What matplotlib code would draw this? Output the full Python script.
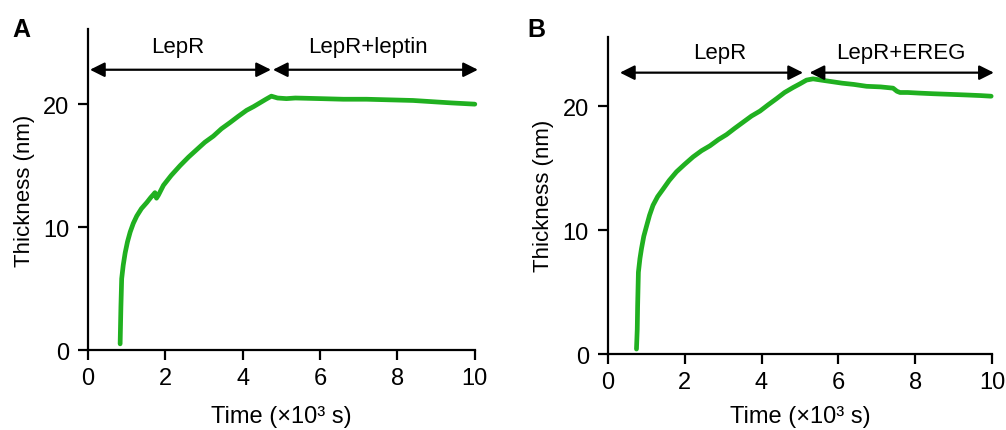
import matplotlib.pyplot as plt

plt.rcParams['font.family'] = ['Liberation Sans', 'DejaVu Sans']

# Panel A: LepR then LepR+leptin (time in 10^3 s, thickness in nm)
time_a = [0.83, 0.85, 0.87, 0.91, 0.96, 1.02, 1.09, 1.17, 1.26, 1.38, 1.52, 1.62,
          1.69, 1.73, 1.77, 1.82, 1.95, 2.15, 2.38, 2.60, 2.81, 3.02, 3.24, 3.45,
          3.67, 3.88, 4.10, 4.28, 4.44, 4.60, 4.74, 4.90, 5.13, 5.36, 6.00, 6.60,
          7.20, 7.80, 8.40, 8.90, 9.40, 10.0]
thick_a = [0.5, 3.5, 5.8, 6.9, 7.9, 8.8, 9.6, 10.3, 10.9, 11.5, 12.0, 12.4,
           12.65, 12.8, 12.35, 12.6, 13.4, 14.2, 15.0, 15.7, 16.3, 16.9, 17.4, 18.0,
           18.5, 19.0, 19.5, 19.8, 20.1, 20.4, 20.65, 20.5, 20.45, 20.5, 20.45, 20.4,
           20.4, 20.35, 20.3, 20.2, 20.1, 20.0]

# Panel B: LepR then LepR+EREG
time_b = [0.75, 0.77, 0.78, 0.80, 0.84, 0.88, 0.94, 1.01, 1.09, 1.18, 1.30, 1.44,
          1.60, 1.79, 2.00, 2.22, 2.44, 2.66, 2.88, 3.09, 3.30, 3.52, 3.74, 3.96,
          4.17, 4.39, 4.60, 4.82, 5.00, 5.17, 5.34, 5.55, 5.77, 6.10, 6.40, 6.73,
          7.10, 7.42, 7.52, 7.60, 7.80, 8.10, 8.46, 8.90, 9.32, 9.70, 9.97]
thick_b = [0.4, 2.0, 3.9, 6.6, 7.7, 8.5, 9.5, 10.3, 11.2, 12.0, 12.7, 13.3,
           14.0, 14.7, 15.3, 15.9, 16.4, 16.8, 17.3, 17.7, 18.2, 18.7, 19.2, 19.6,
           20.1, 20.6, 21.1, 21.5, 21.8, 22.1, 22.2, 22.1, 22.0, 21.85, 21.75, 21.6,
           21.55, 21.45, 21.2, 21.1, 21.1, 21.05, 21.0, 20.95, 20.9, 20.85, 20.8]

xticks = [0, 2, 4, 6, 8, 10]
yticks = [0, 10, 20]
green = '#20b020'

fig = plt.figure(figsize=(10.06, 4.31), dpi=100)
ax_a = fig.add_axes([0.0875, 0.1856, 0.3845, 0.7444])
ax_b = fig.add_axes([0.604, 0.1763, 0.3824, 0.7362])

panels = [
    (ax_a, time_a, thick_a, 26.1, 'leptin', (0.05, 4.73), (4.78, 10.08), 22.8, 24.7, 2.33, 7.24, 'A', 0.012, 11),
    (ax_b, time_b, thick_b, 25.6, 'EREG', (0.32, 5.08), (5.25, 10.04), 22.7, 24.3, 2.92, 7.62, 'B', 0.524, 8.5),
]

for ax, t, th, ytop, ligand, arr1, arr2, y_arr, ytext, xt1, xt2, letter, lx, xpad in panels:
    ax.plot(t, th, color=green, lw=3.4, solid_capstyle='round', solid_joinstyle='round', clip_on=False)
    ax.set_xlim(0, 10)
    ax.set_ylim(0, ytop)
    ax.set_xticks(xticks)
    ax.set_yticks(yticks)
    for side in ['top', 'right']:
        ax.spines[side].set_visible(False)
    for side in ['left', 'bottom']:
        ax.spines[side].set_linewidth(1.6)
    ax.tick_params(direction='out', length=7.5, width=1.6, labelsize=17)
    ax.tick_params(axis='y', pad=6)
    ax.tick_params(axis='x', pad=5)
    ax.set_xlabel('Time (×10³ s)', fontsize=17, labelpad=xpad)
    ax.set_ylabel('Thickness (nm)', fontsize=16, labelpad=6)

    for x0, x1 in [arr1, arr2]:
        ax.annotate('', xy=(x1, y_arr), xytext=(x0, y_arr),
                    arrowprops=dict(arrowstyle='<|-|>', color='black', lw=1.6,
                                    mutation_scale=22, shrinkA=0, shrinkB=0),
                    annotation_clip=False)
    ax.text(xt1, ytext, 'LepR', ha='center', va='center', fontsize=16)
    ax.text(xt2, ytext, 'LepR+' + ligand, ha='center', va='center', fontsize=16)

    fig.text(lx, 0.93, letter, fontsize=18, fontweight='bold', ha='left', va='center')

fig.savefig('out.png', dpi=100)
